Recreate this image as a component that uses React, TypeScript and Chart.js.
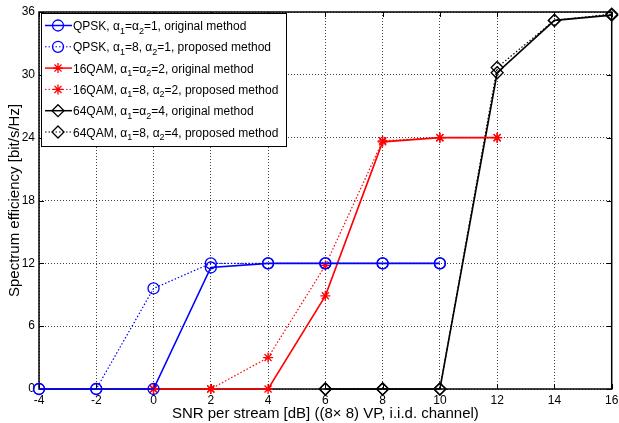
import React, { useEffect, useRef } from "react";
import { Chart, registerables } from "chart.js";

Chart.register(...registerables);

const xTicks = [-4, -2, 0, 2, 4, 6, 8, 10, 12, 14, 16];
const yTicks = [0, 6, 12, 18, 24, 30, 36];

const snrQpsk = [-4, -2, 0, 2, 4, 6, 8, 10];
const qpskOriginal = [0, 0, 0, 11.6, 12, 12, 12, 12];
const qpskProposed = [0, 0, 9.6, 12, 12, 12, 12, 12];

const snr16 = [0, 2, 4, 6, 8, 10, 12];
const qam16Original = [0, 0, 0, 8.9, 23.6, 24, 24];
const qam16Proposed = [0, 0, 3, 11.8, 23.7, 24, 24];

const snr64 = [6, 8, 10, 12, 14, 16];
const qam64Original = [0, 0, 0, 30.2, 35.2, 35.7];
const qam64Proposed = [0, 0, 0, 30.7, 35.2, 35.8];

const legendLabels = [
  "QPSK, α_1=α_2=1, original method",
  "QPSK, α_1=8, α_2=1, proposed method",
  "16QAM, α_1=α_2=2, original method",
  "16QAM, α_1=8, α_2=2, proposed method",
  "64QAM, α_1=α_2=4, original method",
  "64QAM, α_1=8, α_2=4, proposed method",
];

const xTitle = "SNR per stream [dB] ((8× 8) VP, i.i.d. channel)";
const yTitle = "Spectrum efficiency [bit/s/Hz]";

const FONT = "'Liberation Sans', Arial, Helvetica, sans-serif";
const BLUE = "#0000ff";
const RED = "#ff0000";
const BLACK = "#000000";

function toXY(xs: number[], ys: number[]) {
  return xs.map((x, i) => ({ x, y: ys[i] }));
}

type Marker = "circle" | "star" | "rectRot";

function drawMarker(ctx: CanvasRenderingContext2D, kind: Marker, x: number, y: number, r: number, color: string) {
  ctx.save();
  ctx.strokeStyle = color;
  ctx.lineWidth = 1.3;
  ctx.setLineDash([]);
  ctx.beginPath();
  if (kind === "circle") {
    ctx.arc(x, y, r, 0, Math.PI * 2);
  } else if (kind === "rectRot") {
    ctx.moveTo(x, y - r);
    ctx.lineTo(x + r, y);
    ctx.lineTo(x, y + r);
    ctx.lineTo(x - r, y);
    ctx.closePath();
  } else {
    for (let k = 0; k < 4; k++) {
      const a = (k * Math.PI) / 4;
      ctx.moveTo(x - Math.cos(a) * r, y - Math.sin(a) * r);
      ctx.lineTo(x + Math.cos(a) * r, y + Math.sin(a) * r);
    }
  }
  ctx.stroke();
  ctx.restore();
}

function drawRich(ctx: CanvasRenderingContext2D, text: string, x: number, y: number) {
  const parts = text.split(/(_\d)/);
  let cx = x;
  for (const p of parts) {
    if (!p) continue;
    if (p.startsWith("_")) {
      ctx.font = `9px ${FONT}`;
      const s = p.slice(1);
      ctx.fillText(s, cx, y + 3.5);
      cx += ctx.measureText(s).width;
    } else {
      ctx.font = `12px ${FONT}`;
      ctx.fillText(p, cx, y);
      cx += ctx.measureText(p).width;
    }
  }
}

const legendStyles: { color: string; dash: number[]; marker: Marker; r: number }[] = [
  { color: BLUE, dash: [], marker: "circle", r: 5.5 },
  { color: BLUE, dash: [1.5, 2], marker: "circle", r: 5.5 },
  { color: RED, dash: [], marker: "star", r: 5 },
  { color: RED, dash: [1.5, 2], marker: "star", r: 5 },
  { color: BLACK, dash: [], marker: "rectRot", r: 6 },
  { color: BLACK, dash: [1.5, 2], marker: "rectRot", r: 6 },
];

const framePlugin = {
  id: "frame",
  beforeDatasetsDraw(chart: any) {
    const { ctx, chartArea: a, scales } = chart;
    ctx.save();
    ctx.strokeStyle = "#000";
    ctx.lineWidth = 1;
    ctx.setLineDash([]);
    ctx.beginPath();
    const tl = 5;
    for (const v of xTicks) {
      const px = Math.round(scales.x.getPixelForValue(v)) + 0.5;
      ctx.moveTo(px, a.bottom);
      ctx.lineTo(px, a.bottom - tl);
      ctx.moveTo(px, a.top);
      ctx.lineTo(px, a.top + tl);
    }
    for (const v of yTicks) {
      const py = Math.round(scales.y.getPixelForValue(v)) + 0.5;
      ctx.moveTo(a.left, py);
      ctx.lineTo(a.left + tl, py);
      ctx.moveTo(a.right, py);
      ctx.lineTo(a.right - tl, py);
    }
    ctx.stroke();
    ctx.lineWidth = 1.5;
    ctx.strokeRect(a.left, a.top, a.right - a.left, a.bottom - a.top);
    ctx.restore();
  },
  afterDraw(chart: any) {
    const { ctx, chartArea: a } = chart;
    const bx = a.left + 2;
    const by = a.top + 1;
    const bw = 245;
    const bh = 133;
    ctx.save();
    ctx.fillStyle = "#fff";
    ctx.fillRect(bx, by, bw, bh);
    ctx.strokeStyle = "#000";
    ctx.lineWidth = 1;
    ctx.setLineDash([]);
    ctx.strokeRect(bx + 0.5, by + 0.5, bw, bh);
    const rowH = 21.3;
    legendLabels.forEach((lab, i) => {
      const st = legendStyles[i];
      const cy = by + 12.5 + i * rowH;
      ctx.save();
      ctx.strokeStyle = st.color;
      ctx.lineWidth = st.dash.length ? 1 : 1.5;
      ctx.setLineDash(st.dash);
      ctx.beginPath();
      ctx.moveTo(bx + 4, cy);
      ctx.lineTo(bx + 31, cy);
      ctx.stroke();
      ctx.restore();
      drawMarker(ctx, st.marker, bx + 17, cy, st.r, st.color);
      ctx.fillStyle = "#000";
      ctx.textBaseline = "alphabetic";
      ctx.textAlign = "left";
      drawRich(ctx, lab, bx + 32, cy + 4.5);
    });
    ctx.restore();
  },
};

export default function App() {
  const ref = useRef<HTMLCanvasElement | null>(null);
  useEffect(() => {
    if (!ref.current) return;
    Chart.defaults.font.family = FONT;
    const mk = (label: string, xs: number[], ys: number[], color: string, dashed: boolean, style: Marker, r: number) => ({
      label,
      data: toXY(xs, ys),
      borderColor: color,
      backgroundColor: "rgba(0,0,0,0)",
      borderWidth: dashed ? 1.2 : 1.6,
      borderDash: dashed ? [1.5, 2] : [],
      pointStyle: style,
      pointRadius: r,
      pointBorderWidth: 1.3,
      pointBorderColor: color,
      pointBackgroundColor: "rgba(0,0,0,0)",
      tension: 0,
      clip: false as any,
    });
    const chart = new Chart(ref.current, {
      type: "line",
      data: {
        datasets: [
          mk(legendLabels[0], snrQpsk, qpskOriginal, BLUE, false, "circle", 5.5),
          mk(legendLabels[1], snrQpsk, qpskProposed, BLUE, true, "circle", 5.5),
          mk(legendLabels[2], snr16, qam16Original, RED, false, "star", 5),
          mk(legendLabels[3], snr16, qam16Proposed, RED, true, "star", 5),
          mk(legendLabels[4], snr64, qam64Original, BLACK, false, "rectRot", 6),
          mk(legendLabels[5], snr64, qam64Proposed, BLACK, true, "rectRot", 6),
        ] as any,
      },
      options: {
        animation: false,
        responsive: false,
        layout: { padding: { left: 0, top: 12, right: 4, bottom: 0 } },
        plugins: { legend: { display: false }, tooltip: { enabled: false } },
        scales: {
          x: {
            type: "linear",
            min: -4,
            max: 16,
            afterBuildTicks: (s: any) => {
              s.ticks = xTicks.map((v) => ({ value: v }));
            },
            afterFit: (s: any) => {
              s.height = 34;
              s.paddingLeft = 0;
              s.paddingRight = 0;
            },
            ticks: { color: "#000", font: { size: 12 }, padding: 4, maxRotation: 0, autoSkip: false },
            grid: { color: "rgba(0,0,0,0.75)", lineWidth: 1, drawTicks: false },
            border: { display: false, dash: [1, 2] },
            title: { display: true, text: xTitle, color: "#000", font: { size: 15 }, padding: { top: 0, bottom: 0 } },
          },
          y: {
            type: "linear",
            min: 0,
            max: 36,
            afterBuildTicks: (s: any) => {
              s.ticks = yTicks.map((v) => ({ value: v }));
            },
            afterFit: (s: any) => {
              s.width = 39;
              s.paddingTop = 0;
              s.paddingBottom = 0;
            },
            ticks: { color: "#000", font: { size: 12 }, padding: 4, autoSkip: false },
            grid: { color: "rgba(0,0,0,0.75)", lineWidth: 1, drawTicks: false },
            border: { display: false, dash: [1, 2] },
            title: { display: true, text: yTitle, color: "#000", font: { size: 15 }, padding: { top: 6, bottom: 0 } },
          },
        },
      },
      plugins: [framePlugin],
    });
    return () => chart.destroy();
  }, []);
  return (
    <canvas
      ref={ref}
      width={619}
      height={423}
      style={{ position: "absolute", left: 0, top: 0, width: 619, height: 423, display: "block", background: "#fff" }}
    />
  );
}
